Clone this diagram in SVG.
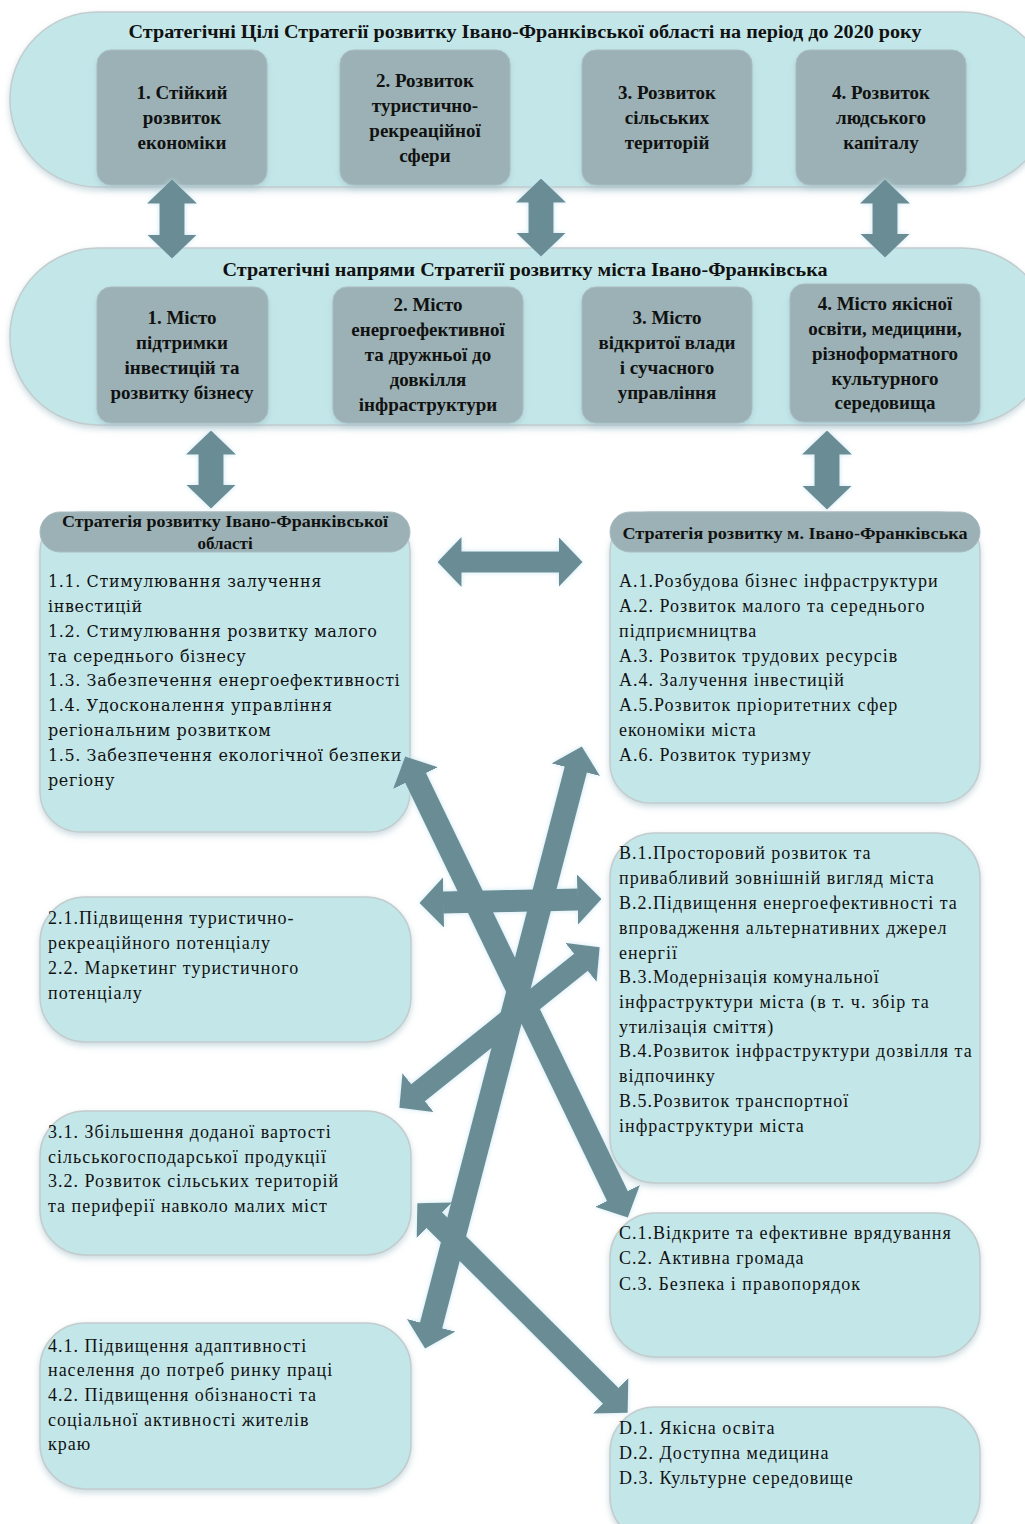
<svg xmlns="http://www.w3.org/2000/svg" width="1025" height="1524" viewBox="0 0 1025 1524">
<defs>
<style>
.band{fill:#c3e7e9;stroke:#c4cccd;stroke-width:1.5}
.gbox{fill:#9bb1b5;stroke:#a9bcc0;stroke-width:1}
.box{fill:#c3e7e9;stroke:#c4cccd;stroke-width:1.5}
.hdr{fill:#9bb1b5;stroke:#a9bcc0;stroke-width:1}
.t-title{font-family:"Liberation Serif",serif;font-weight:bold;font-size:18px;fill:#111;text-anchor:middle}
.t-g{font-family:"Liberation Serif",serif;font-weight:bold;font-size:19px;fill:#111;text-anchor:middle}
.t-h{font-family:"Liberation Serif",serif;font-weight:bold;font-size:17px;fill:#111;text-anchor:middle}
.t-b1{font-family:"DejaVu Serif",serif;font-size:16px;fill:#111;letter-spacing:0.6px}
.t-l{font-family:"Liberation Serif",serif;font-size:18px;fill:#111;letter-spacing:1px}
.t-r{font-family:"Liberation Serif",serif;font-size:18px;fill:#111;letter-spacing:1px}
.arr{stroke:#6a8d95;fill:none;marker-start:url(#head);marker-end:url(#head)}
</style>
<marker id="head" markerUnits="userSpaceOnUse" viewBox="0 0 24 50" markerWidth="24" markerHeight="50" refX="0.5" refY="25" orient="auto-start-reverse">
<path d="M0,0 L24,25 L0,50 z" fill="#6a8d95"/>
</marker>
<filter id="sh" x="-10%" y="-10%" width="120%" height="125%">
<feDropShadow dx="0" dy="3" stdDeviation="3" flood-color="#9fbcc6" flood-opacity="0.55"/>
</filter>
<filter id="glow" x="-20%" y="-20%" width="140%" height="140%">
<feGaussianBlur in="SourceAlpha" stdDeviation="2.5" result="b"/>
<feFlood flood-color="#bfe2f0" flood-opacity="0.8"/>
<feComposite in2="b" operator="in" result="g"/>
<feMerge><feMergeNode in="g"/><feMergeNode in="SourceGraphic"/></feMerge>
</filter>
</defs>
<rect width="1025" height="1524" fill="#ffffff"/>

<g id="band-top">
<rect class="band" x="10" y="12" width="1040" height="175" rx="87" filter="url(#sh)"/>
<text class="t-title" x="525" y="38" textLength="793" lengthAdjust="spacingAndGlyphs">Стратегічні Цілі Стратегії розвитку Івано-Франківської області на період до 2020 року</text>
</g>
<g id="goal-1">
<rect class="gbox" x="97" y="50" width="170" height="135" rx="14" filter="url(#sh)"/>
<text class="t-g" x="182" y="99">1. Стійкий</text>
<text class="t-g" x="182" y="124">розвиток</text>
<text class="t-g" x="182" y="149">економіки</text>
</g>
<g id="goal-2">
<rect class="gbox" x="340" y="50" width="170" height="135" rx="14" filter="url(#sh)"/>
<text class="t-g" x="425" y="87">2. Розвиток</text>
<text class="t-g" x="425" y="112">туристично-</text>
<text class="t-g" x="425" y="137">рекреаційної</text>
<text class="t-g" x="425" y="162">сфери</text>
</g>
<g id="goal-3">
<rect class="gbox" x="582" y="50" width="170" height="135" rx="14" filter="url(#sh)"/>
<text class="t-g" x="667" y="99">3. Розвиток</text>
<text class="t-g" x="667" y="124">сільських</text>
<text class="t-g" x="667" y="149">територій</text>
</g>
<g id="goal-4">
<rect class="gbox" x="796" y="50" width="170" height="135" rx="14" filter="url(#sh)"/>
<text class="t-g" x="881" y="99">4. Розвиток</text>
<text class="t-g" x="881" y="124">людського</text>
<text class="t-g" x="881" y="149">капіталу</text>
</g>

<g id="band-city">
<rect class="band" x="10" y="248" width="1040" height="177" rx="88" filter="url(#sh)"/>
<text class="t-title" x="525" y="276" textLength="605" lengthAdjust="spacingAndGlyphs">Стратегічні напрями Стратегії розвитку міста Івано-Франківська</text>
</g>
<g id="dir-1">
<rect class="gbox" x="97" y="287" width="171" height="136" rx="14" filter="url(#sh)"/>
<text class="t-g" x="182" y="324">1. Місто</text>
<text class="t-g" x="182" y="349">підтримки</text>
<text class="t-g" x="182" y="374">інвестицій та</text>
<text class="t-g" x="182" y="399">розвитку бізнесу</text>
</g>
<g id="dir-2">
<rect class="gbox" x="333" y="287" width="190" height="136" rx="14" filter="url(#sh)"/>
<text class="t-g" x="428" y="311">2. Місто</text>
<text class="t-g" x="428" y="336">енергоефективної</text>
<text class="t-g" x="428" y="361">та дружньої до</text>
<text class="t-g" x="428" y="386">довкілля</text>
<text class="t-g" x="428" y="411">інфраструктури</text>
</g>
<g id="dir-3">
<rect class="gbox" x="582" y="287" width="170" height="136" rx="14" filter="url(#sh)"/>
<text class="t-g" x="667" y="324">3. Місто</text>
<text class="t-g" x="667" y="349">відкритої влади</text>
<text class="t-g" x="667" y="374">і сучасного</text>
<text class="t-g" x="667" y="399">управління</text>
</g>
<g id="dir-4">
<rect class="gbox" x="790" y="284" width="190" height="138" rx="14" filter="url(#sh)"/>
<text class="t-g" x="885" y="310">4. Місто якісної</text>
<text class="t-g" x="885" y="335">освіти, медицини,</text>
<text class="t-g" x="885" y="360">різноформатного</text>
<text class="t-g" x="885" y="385">культурного</text>
<text class="t-g" x="885" y="409">середовища</text>
</g>

<g id="region-strategy">
<rect class="box" x="40" y="512" width="370" height="320" rx="40" filter="url(#sh)"/>
<rect class="hdr" x="40" y="512" width="370" height="40" rx="20"/>
<text class="t-h" x="225" y="527" textLength="326" lengthAdjust="spacingAndGlyphs">Стратегія розвитку Івано-Франківської</text>
<text class="t-h" x="225" y="549">області</text>
<text class="t-b1" x="48" y="587">1.1. Стимулювання залучення</text>
<text class="t-b1" x="48" y="612">інвестицій</text>
<text class="t-b1" x="48" y="637">1.2. Стимулювання розвитку малого</text>
<text class="t-b1" x="48" y="662">та середнього бізнесу</text>
<text class="t-b1" x="48" y="686">1.3. Забезпечення енергоефективності</text>
<text class="t-b1" x="48" y="711">1.4. Удосконалення управління</text>
<text class="t-b1" x="48" y="736">регіональним розвитком</text>
<text class="t-b1" x="48" y="761">1.5. Забезпечення екологічної безпеки</text>
<text class="t-b1" x="48" y="786">регіону</text>
</g>

<g id="city-strategy-A">
<rect class="box" x="610" y="512" width="370" height="291" rx="40" filter="url(#sh)"/>
<rect class="hdr" x="610" y="512" width="370" height="40" rx="20"/>
<text class="t-h" x="795" y="539" textLength="345" lengthAdjust="spacingAndGlyphs">Стратегія розвитку м. Івано-Франківська</text>
<text class="t-r" x="619" y="587">А.1.Розбудова бізнес інфраструктури</text>
<text class="t-r" x="619" y="612">А.2. Розвиток малого та середнього</text>
<text class="t-r" x="619" y="637">підприємництва</text>
<text class="t-r" x="619" y="662">А.3. Розвиток трудових ресурсів</text>
<text class="t-r" x="619" y="686">А.4. Залучення інвестицій</text>
<text class="t-r" x="619" y="711">А.5.Розвиток пріоритетних сфер</text>
<text class="t-r" x="619" y="736">економіки міста</text>
<text class="t-r" x="619" y="761">А.6. Розвиток туризму</text>
</g>

<g id="region-2">
<rect class="box" x="40" y="897" width="371" height="145" rx="45" filter="url(#sh)"/>
<text class="t-l" x="48" y="924">2.1.Підвищення туристично-</text>
<text class="t-l" x="48" y="949">рекреаційного потенціалу</text>
<text class="t-l" x="48" y="974">2.2. Маркетинг туристичного</text>
<text class="t-l" x="48" y="999">потенціалу</text>
</g>
<g id="region-3">
<rect class="box" x="40" y="1111" width="371" height="144" rx="45" filter="url(#sh)"/>
<text class="t-l" x="48" y="1138">3.1. Збільшення доданої вартості</text>
<text class="t-l" x="48" y="1163">сільськогосподарської продукції</text>
<text class="t-l" x="48" y="1187">3.2. Розвиток сільських територій</text>
<text class="t-l" x="48" y="1212">та периферії навколо малих міст</text>
</g>
<g id="region-4">
<rect class="box" x="40" y="1323" width="371" height="166" rx="45" filter="url(#sh)"/>
<text class="t-l" x="48" y="1352">4.1. Підвищення адаптивності</text>
<text class="t-l" x="48" y="1376">населення до потреб ринку праці</text>
<text class="t-l" x="48" y="1401">4.2. Підвищення обізнаності та</text>
<text class="t-l" x="48" y="1426">соціальної активності жителів</text>
<text class="t-l" x="48" y="1450">краю</text>
</g>

<g id="city-B">
<rect class="box" x="610" y="833" width="370" height="350" rx="45" filter="url(#sh)"/>
<text class="t-r" x="619" y="859">В.1.Просторовий розвиток та</text>
<text class="t-r" x="619" y="884">привабливий зовнішній вигляд міста</text>
<text class="t-r" x="619" y="909">В.2.Підвищення енергоефективності та</text>
<text class="t-r" x="619" y="934">впровадження альтернативних джерел</text>
<text class="t-r" x="619" y="959">енергії</text>
<text class="t-r" x="619" y="983">В.3.Модернізація комунальної</text>
<text class="t-r" x="619" y="1008">інфраструктури міста (в т. ч. збір та</text>
<text class="t-r" x="619" y="1033">утилізація сміття)</text>
<text class="t-r" x="619" y="1057">В.4.Розвиток інфраструктури дозвілля та</text>
<text class="t-r" x="619" y="1082">відпочинку</text>
<text class="t-r" x="619" y="1107">В.5.Розвиток транспортної</text>
<text class="t-r" x="619" y="1132">інфраструктури міста</text>
</g>
<g id="city-C">
<rect class="box" x="610" y="1213" width="370" height="144" rx="45" filter="url(#sh)"/>
<text class="t-r" x="619" y="1239">С.1.Відкрите та ефективне врядування</text>
<text class="t-r" x="619" y="1264">С.2. Активна громада</text>
<text class="t-r" x="619" y="1290">С.3. Безпека і правопорядок</text>
</g>
<g id="city-D">
<rect class="box" x="610" y="1407" width="370" height="135" rx="45" filter="url(#sh)"/>
<text class="t-r" x="619" y="1434">D.1. Якісна освіта</text>
<text class="t-r" x="619" y="1459">D.2. Доступна медицина</text>
<text class="t-r" x="619" y="1484">D.3. Культурне середовище</text>
</g>

<g id="connectors" filter="url(#glow)">
<line class="arr" x1="172" y1="203" x2="172" y2="235" stroke-width="25"/>
<line class="arr" x1="541" y1="202" x2="541" y2="233" stroke-width="25"/>
<line class="arr" x1="885" y1="203" x2="885" y2="234" stroke-width="25"/>
<line class="arr" x1="211" y1="454" x2="211" y2="485" stroke-width="25"/>
<line class="arr" x1="827" y1="454" x2="827" y2="486" stroke-width="25"/>
<line class="arr" x1="461" y1="562" x2="559" y2="562" stroke-width="21"/>
<line class="arr" x1="415.4" y1="777.6" x2="617.6" y2="1196.4" stroke-width="23"/>
<line class="arr" x1="575.9" y1="769.2" x2="431" y2="1325.8" stroke-width="23"/>
<line class="arr" x1="443" y1="902.5" x2="578" y2="899.5" stroke-width="22"/>
<line class="arr" x1="581.3" y1="962" x2="417.7" y2="1093" stroke-width="22"/>
<line class="arr" x1="434" y1="1219.9" x2="611" y2="1396.1" stroke-width="22"/>
</g>
</svg>
